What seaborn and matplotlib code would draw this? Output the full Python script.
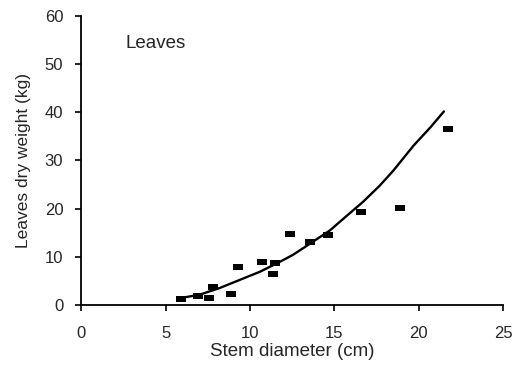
import matplotlib
matplotlib.use("Agg")
import matplotlib.pyplot as plt
import seaborn as sns
import pandas as pd

# Observed data (stem diameter cm, leaves dry weight kg)
diam = [5.9, 6.9, 7.55, 7.8, 8.85, 9.3, 10.7, 11.35, 11.5, 12.35, 13.55, 14.6, 16.6, 18.9, 21.75]
weight = [1.2, 1.9, 1.4, 3.7, 2.3, 7.9, 9.0, 6.4, 8.6, 14.7, 13.1, 14.5, 19.2, 20.1, 36.6]

# Fitted curve
curve_x = [5.85, 7.0, 8.2, 9.4, 10.6, 11.8, 12.55, 13.55, 14.75, 15.9, 16.7, 17.7, 18.5, 19.7, 20.7, 21.5]
curve_y = [1.4, 2.1, 3.5, 5.2, 6.9, 9.0, 10.4, 12.7, 15.5, 19.0, 21.4, 24.8, 27.9, 33.1, 36.9, 40.2]

x_ticks = [0, 5, 10, 15, 20, 25]
y_ticks = [0, 10, 20, 30, 40, 50, 60]

sns.set_theme(style="ticks")
plt.rcParams['font.family'] = ['Liberation Sans', 'DejaVu Sans']

fig = plt.figure(figsize=(5.18, 3.66), dpi=100)
ax = fig.add_axes([0.157, 0.167, 0.814, 0.789])

pts = pd.DataFrame({"d": diam, "w": weight})
crv = pd.DataFrame({"d": curve_x, "w": curve_y})

sns.lineplot(data=crv, x="d", y="w", ax=ax, color="black", linewidth=1.7, sort=True)
rect = [(-1, -0.55), (1, -0.55), (1, 0.55), (-1, 0.55), (-1, -0.55)]
sns.scatterplot(data=pts, x="d", y="w", ax=ax, marker=rect, s=45, color="black",
                edgecolor="black", linewidth=0, zorder=3)

ax.set_xlim(0, 25)
ax.set_ylim(0, 60)
ax.set_xticks(x_ticks)
ax.set_yticks(y_ticks)
ax.tick_params(axis="both", labelsize=12, length=4, width=1.2, color="black", direction="out")
ax.tick_params(axis="x", pad=11)
ax.tick_params(axis="y", pad=9)
for s in ["top", "right"]:
    ax.spines[s].set_visible(False)
for s in ["left", "bottom"]:
    ax.spines[s].set_color("black")
    ax.spines[s].set_linewidth(1.3)

ax.set_xlabel("Stem diameter (cm)", fontsize=13.5, labelpad=2)
ax.set_ylabel("Leaves dry weight (kg)", fontsize=12.5, labelpad=10)
ax.text(0.105, 0.905, "Leaves", transform=ax.transAxes, fontsize=13.5, va="center", ha="left")
ax.grid(False)

fig.savefig("out.png", dpi=100)
